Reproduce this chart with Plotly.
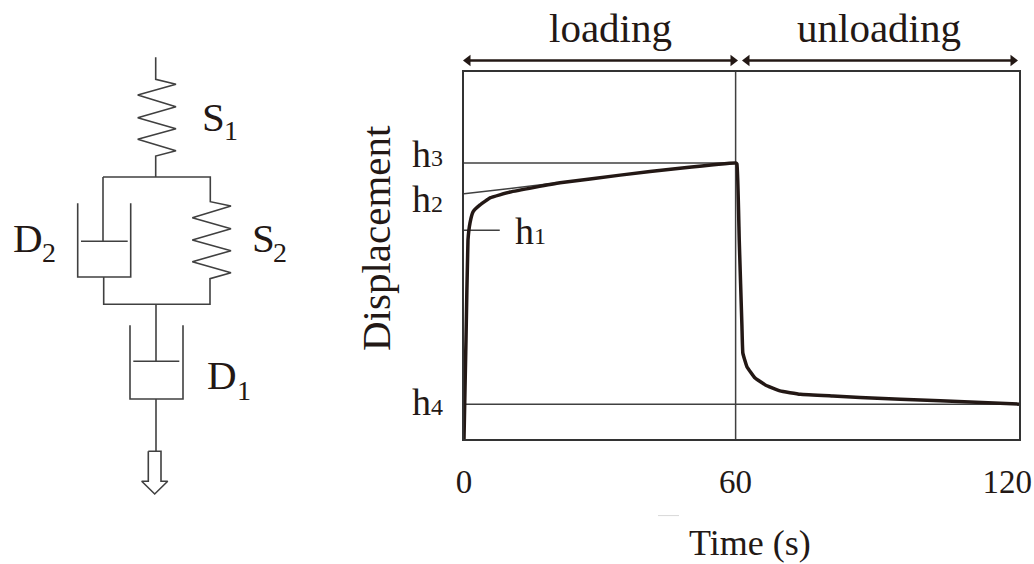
import plotly.graph_objects as go

# ---- displacement curve (time in s, displacement normalised to frame height)
load_t = [0, 0.44, 0.88, 1.33, 1.99, 3.54, 5.75, 10.2, 21.2, 34.5, 47.7, 60]
load_v = [0, 0.27, 0.542, 0.589, 0.619, 0.638, 0.657, 0.673, 0.698, 0.719, 0.738, 0.752]
unload_t = [60, 60.3, 60.8, 61.4, 61.6, 62.5, 64.3, 66.9, 69.8, 74.3, 81.5, 87.5, 105.2, 122.6]
unload_v = [0.752, 0.749, 0.542, 0.306, 0.234, 0.197, 0.166, 0.145, 0.131, 0.122, 0.117, 0.113, 0.104, 0.095]
H1, H2, H3, H4 = 0.569, 0.668, 0.752, 0.095
T_PEAK = 60
T_MAX = 122.6
V_MAX = 1.0
tangent_t = [0, 22]
tangent_v = [H2, 0.70]
h1_leader_t = [0, 7.9]
x_ticks = [0, 60, 120]
x_tick_text = ["0", "60", "120"]

# ---- schematic (rheological model), drawn in figure units
spring1_x = [155.7, 155.7, 176, 137.7, 176, 137.7, 176, 137.7, 176, 155.7, 155.7]
spring1_y = [57.3, 79.3, 84.3, 95, 106.7, 117.7, 128.7, 139.3, 150.7, 156, 177]
spring2_x = [103, 210.3, 210.3, 231, 192.3, 231, 192.3, 231, 192.3, 231, 210, 210, 103.7, 103.7]
spring2_y = [177, 177, 201.7, 206, 217.7, 228.7, 240, 250.7, 261.7, 272.7, 278.7, 304.3, 304.3, 277]
rod2_x = [103, 103]
rod2_y = [177, 241.3]
piston2_x = [81, 127.7]
piston2_y = [241.3, 241.3]
cup2_x = [77.7, 77.7, 130.7, 130.7]
cup2_y = [203.3, 277, 277, 203.3]
rod1_x = [156, 156]
rod1_y = [304.3, 361.3]
piston1_x = [133.3, 179.3]
piston1_y = [361.3, 361.3]
cup1_x = [130, 130, 183, 183]
cup1_y = [325.3, 399, 399, 325.3]
rod3_x = [156, 156]
rod3_y = [399, 451.3]
arrow_x = [148.3, 161, 161, 167.7, 154.7, 141.7, 148.3, 148.3]
arrow_y = [451.3, 451.3, 481.3, 481.3, 494, 481.3, 481.3, 451.3]

# ---- range arrows above the frame (figure units)
arrow_loading_x = [468, 733]
arrow_unloading_x = [747, 1013]
ARROW_Y = 60.5
speck_x = [658, 679]
speck_y = [515.6, 515.6]

# ---- labels: text, x, y, size
big_labels = [
    ("S", 213, 117, 41), ("1", 231, 130, 28),
    ("D", 28, 238, 41), ("2", 49, 252, 28),
    ("S", 263, 238, 41), ("2", 280, 252, 28),
    ("D", 222, 375, 41), ("1", 244, 390, 28),
    ("h", 421, 154, 38), ("3", 437, 158, 24),
    ("h", 421, 199, 38), ("2", 437, 204, 24),
    ("h", 524, 231, 38), ("1", 540, 236, 24),
    ("h", 421, 402, 38), ("4", 437, 407, 24),
    ("loading", 610, 28, 41),
    ("unloading", 879, 28, 41),
    ("Time (s)", 749.5, 543, 36),
]
y_title = "Displacement"

INK = "#231815"
LINE = "#404040"
W, H = 1034, 564
SERIF = "Liberation Serif"

fig = go.Figure()


def thin(x, y, width=1.6, color=LINE, xa="x2", ya="y2"):
    fig.add_trace(go.Scatter(x=x, y=y, mode="lines", xaxis=xa, yaxis=ya, showlegend=False,
                             hoverinfo="skip", line=dict(color=color, width=width)))


for sx, sy in [(spring1_x, spring1_y), (spring2_x, spring2_y), (rod2_x, rod2_y),
               (piston2_x, piston2_y), (cup2_x, cup2_y), (rod1_x, rod1_y),
               (piston1_x, piston1_y), (cup1_x, cup1_y), (rod3_x, rod3_y), (arrow_x, arrow_y)]:
    thin(sx, sy)
thin(speck_x, speck_y, 1, "#d8d8d8")

thin([0, T_PEAK], [H3, H3], 1.5, LINE, "x", "y")
thin([0, T_MAX], [H4, H4], 1.5, LINE, "x", "y")
thin([T_PEAK, T_PEAK], [0, V_MAX], 1.5, LINE, "x", "y")
thin(tangent_t, tangent_v, 1.5, LINE, "x", "y")
thin(h1_leader_t, [H1, H1], 1.5, LINE, "x", "y")

fig.add_trace(go.Scatter(x=load_t + unload_t[1:], y=load_v + unload_v[1:], mode="lines",
                         showlegend=False, line=dict(color=INK, width=3.5, shape="spline", smoothing=0.3)))

for seg in (arrow_loading_x, arrow_unloading_x):
    fig.add_trace(go.Scatter(x=seg, y=[ARROW_Y, ARROW_Y], mode="lines+markers", xaxis="x2", yaxis="y2",
                             showlegend=False, hoverinfo="skip", line=dict(color=INK, width=2.5),
                             marker=dict(symbol=["triangle-left", "triangle-right"], size=10, color=INK)))

annotations = [dict(text=t, x=x, y=y, xref="x2", yref="y2", xanchor="center", yanchor="middle",
                    showarrow=False, font=dict(family=SERIF, size=s, color=INK))
               for t, x, y, s in big_labels]
annotations.append(dict(text=y_title, x=376, y=238, xref="x2", yref="y2", xanchor="center", yanchor="middle",
                        textangle=-90, showarrow=False, font=dict(family=SERIF, size=41, color=INK)))

fig.update_layout(
    width=W, height=H, margin=dict(l=0, r=0, t=0, b=0, autoexpand=False),
    paper_bgcolor="white", plot_bgcolor="rgba(0,0,0,0)",
    font=dict(family=SERIF, color=INK), showlegend=False, annotations=annotations,
    xaxis=dict(domain=[464 / W, 1019 / W], range=[0, T_MAX], tickvals=x_ticks, ticktext=x_tick_text,
               ticks="", showgrid=False, zeroline=False, showline=True, mirror=True, linecolor="#333333",
               linewidth=2, tickfont=dict(size=33, family=SERIF, color=INK), ticklabelstandoff=12),
    yaxis=dict(domain=[1 - 439 / H, 1 - 72 / H], range=[0, V_MAX], showticklabels=False, ticks="",
               showgrid=False, zeroline=False, showline=True, mirror=True, linecolor="#333333", linewidth=2),
    xaxis2=dict(domain=[0, 1], range=[0, W], visible=False, anchor="y2"),
    yaxis2=dict(domain=[0, 1], range=[H, 0], visible=False, anchor="x2"),
)

fig.write_html("out.html", config=dict(displayModeBar=False), post_script="document.body.style.margin='0';")
